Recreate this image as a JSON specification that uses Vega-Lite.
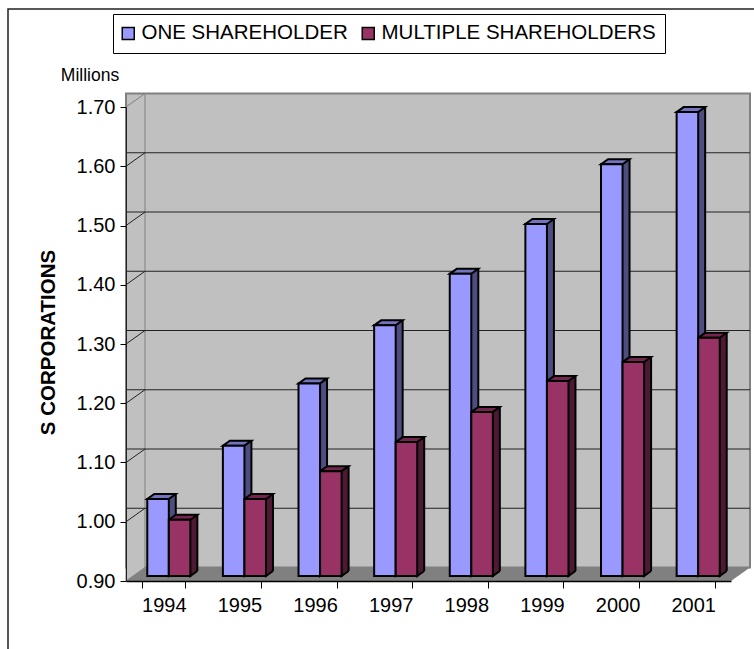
{
"$schema":"https://vega.github.io/schema/vega-lite/v6.json",
"width":605,"height":474,
"autosize":{"type":"none"},
"padding":{"left":126,"top":107,"right":23,"bottom":68},
"background":"white",
"config":{"font":"Liberation Sans","view":{"stroke":null}},
"datasets":{
"bars":[
{"year":"1994","series":"ONE SHAREHOLDER","v":1.03},{"year":"1995","series":"ONE SHAREHOLDER","v":1.12},{"year":"1996","series":"ONE SHAREHOLDER","v":1.225},{"year":"1997","series":"ONE SHAREHOLDER","v":1.323},{"year":"1998","series":"ONE SHAREHOLDER","v":1.41},{"year":"1999","series":"ONE SHAREHOLDER","v":1.494},{"year":"2000","series":"ONE SHAREHOLDER","v":1.595},{"year":"2001","series":"ONE SHAREHOLDER","v":1.683},
{"year":"1994","series":"MULTIPLE SHAREHOLDERS","v":0.995},{"year":"1995","series":"MULTIPLE SHAREHOLDERS","v":1.03},{"year":"1996","series":"MULTIPLE SHAREHOLDERS","v":1.077},{"year":"1997","series":"MULTIPLE SHAREHOLDERS","v":1.126},{"year":"1998","series":"MULTIPLE SHAREHOLDERS","v":1.177},{"year":"1999","series":"MULTIPLE SHAREHOLDERS","v":1.229},{"year":"2000","series":"MULTIPLE SHAREHOLDERS","v":1.261},{"year":"2001","series":"MULTIPLE SHAREHOLDERS","v":1.302}],
"ticks":[{"t":1.0},{"t":1.1},{"t":1.2},{"t":1.3},{"t":1.4},{"t":1.5},{"t":1.6}],
"wall":[{"lo":0.9,"hi":1.7}],
"note":[{"t":1.7,"label":"Millions"}]
},
"layer":[
{"data":{"name":"wall"},"mark":{"type":"point","shape":"M340 -572 L-420.5 -572 L-420.5 80","filled":false,"stroke":"#222222","strokeWidth":1.5,"size":4,"opacity":1},
 "encoding":{"y":{"field":"lo","type":"quantitative","scale":{"domain":[0.9,1.7],"zero":false,"nice":false},"axis":{"grid":false,"values":[0.9,1.0,1.1,1.2,1.3,1.4,1.5,1.6,1.7],"format":".2f","title":"S CORPORATIONS","titleFontSize":20.5,"titleFontWeight":"bold","titleColor":"#000","titlePadding":18,"titleY":235,"labelFontSize":20,"labelColor":"#000","labelPadding":5,"tickColor":"#000","tickSize":6,"domainColor":"#222","zindex":1}}}},
{"data":{"name":"wall"},"mark":{"type":"rect","fill":"#c0c0c0","stroke":"#808080","strokeWidth":2,"xOffset":19,"x2Offset":19,"yOffset":-13.5,"y2Offset":-13.5},
 "encoding":{"y":{"field":"lo","type":"quantitative","scale":{"domain":[0.9,1.7],"zero":false,"nice":false}},"y2":{"field":"hi"}}},
{"data":{"name":"wall"},"mark":{"type":"point","shape":"M-302.5 0 L-283.5 -13.5 L-283.5 -487.5 L-302.5 -474 Z","filled":true,"fill":"#c0c0c0","stroke":"#808080","strokeWidth":1,"size":4,"opacity":1},
 "encoding":{"y":{"field":"lo","type":"quantitative","scale":{"domain":[0.9,1.7],"zero":false,"nice":false}}}},
{"data":{"name":"wall"},"mark":{"type":"point","shape":"M-302.5 0 L-283.5 -13.5 L321.5 -13.5 L302.5 0 Z","filled":true,"fill":"#808080","strokeWidth":0,"size":4,"opacity":1},
 "encoding":{"y":{"field":"lo","type":"quantitative","scale":{"domain":[0.9,1.7],"zero":false,"nice":false}}}},
{"data":{"name":"ticks"},"mark":{"type":"rule","color":"#222222","strokeWidth":1,"xOffset":19,"x2Offset":19,"yOffset":-13.5},
 "encoding":{"y":{"field":"t","type":"quantitative","scale":{"domain":[0.9,1.7],"zero":false,"nice":false}}}},
{"data":{"name":"ticks"},"mark":{"type":"point","shape":"M-302.5 0 L-283.5 -13.5","filled":false,"stroke":"#222222","strokeWidth":1,"size":4,"opacity":1},
 "encoding":{"y":{"field":"t","type":"quantitative","scale":{"domain":[0.9,1.7],"zero":false,"nice":false}}}},
{"data":{"name":"note"},"mark":{"type":"text","dx":-338.5,"dy":-31,"fontSize":17.5,"color":"#000","align":"center"},
 "encoding":{"y":{"field":"t","type":"quantitative","scale":{"domain":[0.9,1.7],"zero":false,"nice":false}},"text":{"field":"label"}}},

{"data":{"name":"bars"},"mark":{"type":"point","opacity":0,"size":1},
 "encoding":{
  "x":{"field":"year","type":"nominal","scale":{"paddingInner":0.43,"paddingOuter":0.215},"axis":{"title":null,"labelAngle":0,"labelFontSize":20,"labelColor":"#000","labelPadding":7,"tickBand":"extent","tickColor":"#000","tickSize":7,"domainColor":"#000","domainWidth":1.5,"zindex":1}},
  "y":{"field":"v","type":"quantitative","scale":{"domain":[0.9,1.7],"zero":false,"nice":false}}}},
{"data":{"name":"bars"},"mark":{"type":"bar","yOffset":-10,"y2Offset":-10,"strokeWidth":0},
 "encoding":{
  "x":{"field":"year","type":"nominal","scale":{"range":[12,617],"paddingInner":0.43,"paddingOuter":0.215},"axis":null},
  "xOffset":{"field":"series","sort":["ONE SHAREHOLDER","MULTIPLE SHAREHOLDERS"],"scale":{"paddingInner":0,"paddingOuter":0}},
  "y":{"field":"v","type":"quantitative","scale":{"domain":[0.9,1.7],"zero":false,"nice":false}},"y2":{"datum":0.9},
  "color":{"field":"series","scale":{"domain":["ONE SHAREHOLDER","MULTIPLE SHAREHOLDERS"],"range":["#4d4d80","#4d1a33"]},"legend":null}}},
{"data":{"name":"bars"},"mark":{"type":"point","shape":"M22.75 -5 L15.75 0 L15.75 -5","filled":true,"stroke":"#000","strokeWidth":2,"size":4,"opacity":1,"yOffset":-5},
 "encoding":{
  "x":{"field":"year","type":"nominal","scale":{"paddingInner":0.43,"paddingOuter":0.215},"axis":null},
  "xOffset":{"field":"series","sort":["ONE SHAREHOLDER","MULTIPLE SHAREHOLDERS"],"scale":{"type":"band","paddingInner":0,"paddingOuter":0}},
  "y":{"datum":0.9,"type":"quantitative","scale":{"domain":[0.9,1.7],"zero":false,"nice":false}},
  "color":{"field":"series","scale":{"domain":["ONE SHAREHOLDER","MULTIPLE SHAREHOLDERS"],"range":["#4d4d80","#4d1a33"]},"legend":null}}},
{"data":{"name":"bars"},"mark":{"type":"rule","color":"#000","strokeWidth":2,"yOffset":-10,"y2Offset":-10},
 "encoding":{
  "x":{"field":"year","type":"nominal","scale":{"range":[22.75,627.75],"paddingInner":0.43,"paddingOuter":0.215},"axis":null},
  "xOffset":{"field":"series","sort":["ONE SHAREHOLDER","MULTIPLE SHAREHOLDERS"],"scale":{"type":"band","paddingInner":0,"paddingOuter":0}},
  "y":{"field":"v","type":"quantitative","scale":{"domain":[0.9,1.7],"zero":false,"nice":false}},"y2":{"datum":0.9}}},
{"data":{"name":"bars"},"mark":{"type":"point","shape":"M-5.75 0 L15.75 0 L22.75 -5 L1.25 -5 Z","filled":true,"stroke":"#000","strokeWidth":2,"size":4,"opacity":1,"yOffset":-5},
 "encoding":{
  "x":{"field":"year","type":"nominal","scale":{"paddingInner":0.43,"paddingOuter":0.215},"axis":null},
  "xOffset":{"field":"series","sort":["ONE SHAREHOLDER","MULTIPLE SHAREHOLDERS"],"scale":{"type":"band","paddingInner":0,"paddingOuter":0}},
  "y":{"field":"v","type":"quantitative","scale":{"domain":[0.9,1.7],"zero":false,"nice":false}},
  "color":{"field":"series","scale":{"domain":["ONE SHAREHOLDER","MULTIPLE SHAREHOLDERS"],"range":["#7373bf","#73264d"]},"legend":null}}},
{"data":{"name":"bars"},"mark":{"type":"bar","yOffset":-5,"y2Offset":-5,"stroke":"#000","strokeWidth":2},
 "encoding":{
  "x":{"field":"year","type":"nominal","scale":{"range":[5,610],"paddingInner":0.43,"paddingOuter":0.215},"axis":null},
  "xOffset":{"field":"series","sort":["ONE SHAREHOLDER","MULTIPLE SHAREHOLDERS"],"scale":{"paddingInner":0,"paddingOuter":0}},
  "y":{"field":"v","type":"quantitative","scale":{"domain":[0.9,1.7],"zero":false,"nice":false}},"y2":{"datum":0.9},
  "color":{"field":"series","scale":{"domain":["ONE SHAREHOLDER","MULTIPLE SHAREHOLDERS"],"range":["#9999ff","#993366"]},
   "legend":{"title":null,"orient":"none","legendX":-13,"legendY":-93,"direction":"horizontal","columns":2,"columnPadding":11,"fillColor":"white","strokeColor":"#000","padding":9,"symbolType":"square","symbolSize":144,"symbolOffset":-4,"symbolStrokeColor":"#000","symbolStrokeWidth":1.5,"labelFontSize":20.5,"labelColor":"#000","labelOffset":3,"labelLimit":320}}}}
],
"resolve":{"scale":{"color":"independent","x":"independent","xOffset":"independent"}}
}
